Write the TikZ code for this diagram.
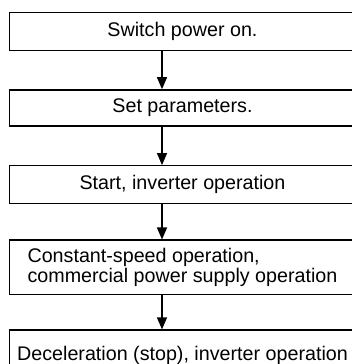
\documentclass[tikz,border=0pt]{standalone}
\usepackage{fontspec}
\setmainfont{Liberation Sans}
\usepackage{tikz}
\usetikzlibrary{positioning, arrows.meta}

\begin{document}
\begin{tikzpicture}[
    x=1pt, y=1pt,
    stepbox/.style={draw, line width=1.4pt, minimum width=346pt, minimum height=37pt, inner sep=0pt, align=center, font=\fontsize{19.7}{17}\selectfont},
    arr/.style={-{Triangle[length=12pt, width=10pt]}, line width=1.3pt}
]

% Canvas
\clip (0,0) rectangle (352,364);

% Switch power on
\node[stepbox, minimum height=38pt] (power) at (182.5,332.5) {Switch power on.};

% Set parameters
\node[stepbox, minimum height=36pt, below=38pt of power] (params) {Set parameters.};

% Start
\node[stepbox, minimum height=38pt, below=38.5pt of params] (start) {Start, inverter operation};

% Constant speed
\node[stepbox, minimum height=54.5pt, below=35pt of start, align=left] (const) {Constant-speed operation,\\commercial power supply operation};

% Deceleration
\node[stepbox, minimum height=50pt, below=34pt of const] (decel) {Deceleration (stop), inverter operation};

% Arrows
\draw[arr] ([xshift=-20.5pt]power.south) -- ([xshift=-20.5pt]params.north);
\draw[arr] ([xshift=-20.5pt]params.south) -- ([xshift=-20.5pt]start.north);
\draw[arr] ([xshift=-20.5pt]start.south) -- ([xshift=-20.5pt]const.north);
\draw[arr] ([xshift=-20.5pt]const.south) -- ([xshift=-20.5pt]decel.north);

\end{tikzpicture}
\end{document}
